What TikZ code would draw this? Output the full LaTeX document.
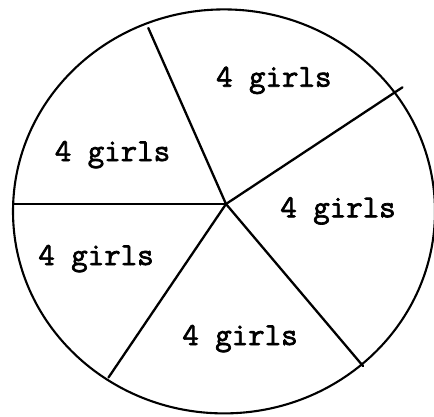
\documentclass[tikz,border=0pt]{standalone}
\usepackage{fontspec}
\newfontfamily\labelfont[FakeBold=2.2]{Latin Modern Mono}
\begin{document}
\begin{tikzpicture}[x=1pt,y=-1pt,
  rim/.style={line width=2.1pt},
  spoke/.style={line width=2.3pt,line cap=round},
  lbl/.style={anchor=base,inner sep=0pt,font=\labelfont\fontsize{32}{34}\selectfont}]
\useasboundingbox (0,0) rectangle (434,416);
\fill[white] (0,0) rectangle (434,416);
\draw[rim] (224,211.4) ellipse [x radius=211, y radius=202];
\coordinate (c) at (226,204);
\coordinate (p1) at (148.3,28);
\coordinate (p2) at (402.5,87.3);
\coordinate (p3) at (363,366);
\coordinate (p4) at (108.5,377.5);
\coordinate (p5) at (13.5,204);
\foreach \p in {p1,p2,p3,p4,p5} \draw[spoke] (c) -- (\p);
\node[lbl] (l1) at (273.8,86.7) {4 girls};
\node[lbl] (l2) at (112.5,161) {4 girls};
\node[lbl] (l3) at (338,217.3) {4 girls};
\node[lbl] (l4) at (96,265) {4 girls};
\node[lbl] (l5) at (240,345) {4 girls};
\end{tikzpicture}
\end{document}
